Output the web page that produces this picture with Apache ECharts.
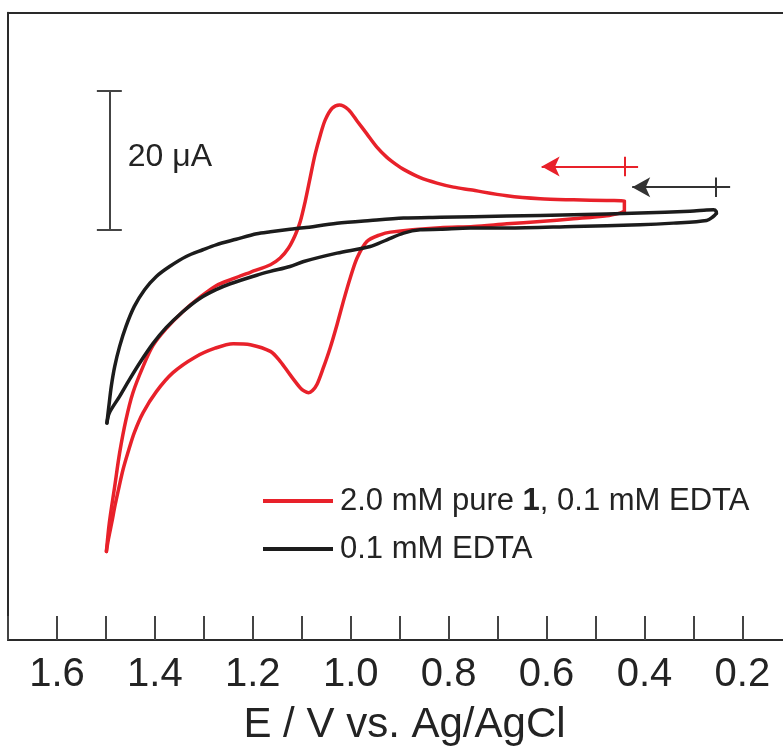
<!DOCTYPE html>
<html>
<head>
<meta charset="utf-8">
<title>Cyclic voltammograms</title>
<script src="https://cdn.jsdelivr.net/npm/echarts@6/dist/echarts.min.js"></script>
<style>
  html, body { margin: 0; padding: 0; background: #fff; }
  #chart { width: 783px; height: 751px; }
</style>
</head>
<body>
<div id="chart"></div>
<script>
// Potential (V vs. Ag/AgCl) and current (µA, cathodic positive) for each sweep
const redName = '2.0 mM pure 1, 0.1 mM EDTA';
const blackName = '0.1 mM EDTA';

// 2.0 mM compound 1 + 0.1 mM EDTA: anodic sweep
const redFwdE = [0.441, 0.450, 0.477, 0.545, 0.613, 0.681, 0.749, 0.817, 0.919, 0.940, 0.967, 0.987, 1.001, 1.015, 1.028, 1.042, 1.056, 1.069, 1.078, 1.086, 1.095, 1.103, 1.124, 1.144, 1.164, 1.205, 1.240, 1.277, 1.318, 1.363, 1.397, 1.424, 1.442, 1.455, 1.465, 1.473, 1.481, 1.488, 1.495, 1.499];
const redFwdI = [1.48, 1.25, 0.86, 0.43, 0.04, -0.29, -0.67, -0.86, -1.48, -1.86, -2.82, -5.20, -8.07, -11.42, -14.76, -18.10, -20.97, -23.36, -24.22, -24.53, -24.29, -23.83, -21.93, -20.02, -18.59, -17.63, -17.48, -18.13, -19.42, -21.64, -24.36, -27.37, -30.24, -33.10, -35.54, -37.98, -40.56, -43.14, -45.57, -47.29];
// 2.0 mM compound 1 + 0.1 mM EDTA: return sweep
const redRevE = [1.499, 1.493, 1.482, 1.472, 1.459, 1.445, 1.424, 1.404, 1.377, 1.343, 1.309, 1.275, 1.240, 1.205, 1.164, 1.144, 1.127, 1.113, 1.103, 1.093, 1.083, 1.073, 1.062, 1.052, 1.038, 1.023, 1.005, 0.987, 0.967, 0.947, 0.926, 0.909, 0.892, 0.858, 0.824, 0.790, 0.756, 0.681, 0.613, 0.545, 0.477, 0.441, 0.441];
const redRevI = [-47.29, -43.18, -37.93, -33.15, -28.38, -24.55, -20.74, -17.77, -15.33, -12.90, -10.89, -9.17, -8.17, -7.24, -6.16, -5.20, -3.77, -1.86, 0.04, 2.91, 6.26, 9.60, 12.47, 14.62, 16.29, 16.77, 16.12, 14.47, 12.61, 10.75, 9.24, 8.31, 7.52, 6.33, 5.55, 4.97, 4.59, 3.73, 3.30, 3.15, 3.05, 3.01, 1.48];

// 0.1 mM EDTA background: anodic sweep
const blackFwdE = [0.253, 0.260, 0.273, 0.341, 0.409, 0.545, 0.681, 0.756, 0.817, 0.858, 0.892, 0.926, 0.960, 1.028, 1.096, 1.124, 1.164, 1.192, 1.246, 1.275, 1.309, 1.343, 1.377, 1.404, 1.431, 1.452, 1.472, 1.493, 1.498];
const blackFwdI = [1.22, 0.72, 0.19, -0.19, -0.43, -0.67, -0.90, -0.90, -1.08, -1.15, -1.62, -2.58, -3.54, -4.49, -5.69, -6.41, -7.12, -7.67, -8.89, -9.74, -11.03, -12.90, -15.19, -17.48, -20.25, -22.64, -25.04, -27.42, -28.88];
// 0.1 mM EDTA background: return sweep
const blackRevE = [1.498, 1.494, 1.489, 1.482, 1.472, 1.459, 1.442, 1.421, 1.397, 1.370, 1.336, 1.302, 1.275, 1.234, 1.192, 1.164, 1.124, 1.096, 1.028, 0.960, 0.892, 0.817, 0.681, 0.545, 0.409, 0.307, 0.273, 0.259, 0.2535, 0.253];
const blackRevI = [-28.88, -26.47, -23.60, -20.74, -17.87, -15.00, -12.14, -9.74, -7.84, -6.41, -4.97, -4.01, -3.30, -2.51, -1.72, -1.43, -1.07, -0.86, -0.21, 0.19, 0.53, 0.64, 0.83, 1.00, 1.25, 1.53, 1.68, 1.72, 1.50, 1.22];

// Potential axis ticks and labels
const tickValues = [0.2, 0.3, 0.4, 0.5, 0.6, 0.7, 0.8, 0.9, 1.0, 1.1, 1.2, 1.3, 1.4, 1.5, 1.6, 1.7];
const labelValues = [0.2, 0.4, 0.6, 0.8, 1.0, 1.2, 1.4, 1.6];

// Sweep direction arrows: [arrow-head potential, tail potential, start potential, current]
const redArrow = [0.610, 0.413, 0.441, 7.92];
const blackArrow = [0.425, 0.225, 0.254, 4.97];

// Current scale bar
const scaleBarSpan = 20;          // µA
const scaleBarLabel = '20 μA';

const FONT = '"Liberation Sans", Arial, Helvetica, sans-serif';
const RED = '#e8212a';
const BLACK = '#1c1c1c';
const INK = '#232323';
const FRAME = '#2a2a2a';

const zip = (xs, ys) => xs.map((x, i) => [x, ys[i]]);

// scale bar geometry, in axis units
const barE = 1.493, barHalf = 0.0255, barLow = -1.15, barHigh = barLow + scaleBarSpan;

function arrowLines(a) {
  const [tip, tail, start, cur] = a;
  return [
    [{ coord: [tip, cur], symbol: 'arrow', symbolSize: [15, 18] }, { coord: [tail, cur], symbol: 'none' }],
    [{ coord: [start, cur + 1.4], symbol: 'none' }, { coord: [start, cur - 1.4], symbol: 'none' }]
  ];
}

const baseLine = (name, data, color, z) => ({
  type: 'line',
  name: name,
  data: data,
  showSymbol: false,
  symbol: 'none',
  smooth: 0.3,
  z: z,
  silent: true,
  lineStyle: { color: color, width: 3.5, join: 'round', cap: 'round' },
  itemStyle: { color: color },
  emphasis: { disabled: true }
});

const chart = echarts.init(document.getElementById('chart'), null, { renderer: 'canvas' });

const redRev = baseLine(redName, zip(redRevE, redRevI), RED, 3);
redRev.markLine = {
  silent: true,
  animation: false,
  symbol: ['none', 'none'],
  label: { show: false },
  lineStyle: { color: RED, width: 2, type: 'solid' },
  emphasis: { disabled: true },
  data: arrowLines(redArrow)
};

const blackRev = baseLine(blackName, zip(blackRevE, blackRevI), BLACK, 4);
blackRev.markLine = {
  silent: true,
  animation: false,
  symbol: ['none', 'none'],
  label: { show: false },
  lineStyle: { color: '#333', width: 2, type: 'solid' },
  emphasis: { disabled: true },
  data: arrowLines(blackArrow).concat([
    [{ coord: [barE, barLow], lineStyle: { color: '#444' } }, { coord: [barE, barHigh] }],
    [{ coord: [barE + barHalf, barLow], lineStyle: { color: '#444' } }, { coord: [barE - barHalf, barLow] }],
    [{ coord: [barE + barHalf, barHigh], lineStyle: { color: '#444' } }, { coord: [barE - barHalf, barHigh] }]
  ])
};
blackRev.markPoint = {
  silent: true,
  animation: false,
  symbol: 'circle',
  symbolSize: 0,
  data: [{ coord: [barE - barHalf, (barLow + barHigh) / 2] }],
  label: {
    show: true,
    position: 'right',
    distance: 6,
    offset: [0, -3],
    formatter: scaleBarLabel,
    fontFamily: FONT,
    fontSize: 32,
    color: INK
  }
};

const xRange = { min: 0.117, max: 1.7 };

const option = {
  animation: false,
  backgroundColor: '#ffffff',
  textStyle: { fontFamily: FONT },
  grid: {
    left: 8,
    top: 12.7,
    right: 0,
    bottom: 110.3,
    show: false
  },
  legend: {
    orient: 'vertical',
    left: 263,
    top: 484,
    padding: 0,
    icon: 'rect',
    itemWidth: 70,
    itemHeight: 4,
    itemGap: 14,
    selectedMode: false,
    data: [redName, blackName],
    formatter: function (name) {
      if (name === redName) return '{n|2.0 mM pure }{b|1}{n|, 0.1 mM EDTA}';
      return '{n|' + name + '}';
    },
    textStyle: {
      fontFamily: FONT,
      fontSize: 31,
      lineHeight: 34,
      color: INK,
      padding: [0, 0, 0, 2],
      rich: {
        n: { fontFamily: FONT, fontSize: 31, color: INK },
        b: { fontFamily: FONT, fontSize: 31, fontWeight: 'bold', color: INK }
      }
    }
  },
  xAxis: [{
    type: 'value',
    inverse: true,
    min: xRange.min,
    max: xRange.max,
    axisLine: { show: true, onZero: false, lineStyle: { color: FRAME, width: 2 } },
    axisTick: { show: true, inside: true, length: 24, customValues: tickValues, lineStyle: { color: '#444', width: 2 } },
    splitLine: { show: false },
    axisLabel: {
      fontFamily: FONT,
      fontSize: 40,
      color: INK,
      margin: 15,
      customValues: labelValues,
      formatter: function (v) { return v.toFixed(1); }
    },
    name: 'E / V vs. Ag/AgCl',
    nameLocation: 'middle',
    nameGap: 85,
    nameTextStyle: {
      fontFamily: FONT,
      fontSize: 42,
      color: INK,
      verticalAlign: 'middle',
      padding: [0, 0, 0, 18]
    }
  }, {
    // top frame edge
    type: 'value',
    position: 'top',
    inverse: true,
    min: xRange.min,
    max: xRange.max,
    axisLine: { show: true, onZero: false, lineStyle: { color: FRAME, width: 2 } },
    axisTick: { show: false },
    axisLabel: { show: false },
    splitLine: { show: false }
  }],
  yAxis: {
    type: 'value',
    min: -60,
    max: 30,
    axisLine: { show: true, onZero: false, lineStyle: { color: FRAME, width: 2 } },
    axisTick: { show: false },
    axisLabel: { show: false },
    splitLine: { show: false }
  },
  series: [
    baseLine(redName, zip(redFwdE, redFwdI), RED, 3),
    redRev,
    baseLine(blackName, zip(blackFwdE, blackFwdI), BLACK, 4),
    blackRev
  ]
};

chart.setOption(option);
</script>
</body>
</html>
